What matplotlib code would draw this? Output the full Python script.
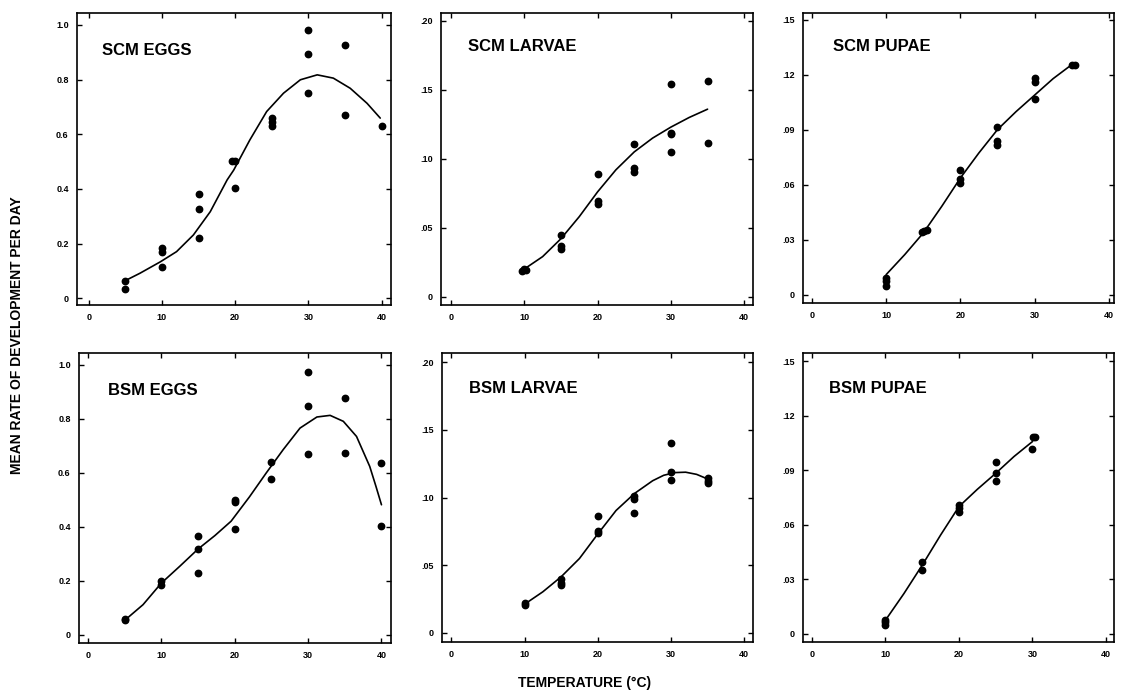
import matplotlib
matplotlib.use("Agg")
import matplotlib.pyplot as plt

# ---------------- data ----------------
scm_eggs_t = [5, 5, 10, 10, 10, 15, 15, 15, 19.6, 20, 20, 25, 25, 25, 30, 30, 30, 35, 35, 40]
scm_eggs_r = [0.063, 0.035, 0.183, 0.171, 0.116, 0.38, 0.328, 0.221, 0.504, 0.502, 0.405,
              0.659, 0.643, 0.63, 0.982, 0.894, 0.75, 0.926, 0.672, 0.63]
scm_eggs_fit_t = [5, 7, 9.8, 12, 14.3, 16.6, 18.9, 19.8, 22, 24.3, 26.6, 28.9, 31.2,
                  33.4, 35.7, 38, 39.8]
scm_eggs_fit_r = [0.065, 0.092, 0.134, 0.171, 0.232, 0.317, 0.433, 0.469, 0.579, 0.683,
                  0.75, 0.799, 0.817, 0.805, 0.768, 0.713, 0.659]

scm_larvae_t = [9.7, 10, 10.2, 15, 15, 15, 20, 20, 20, 25, 25, 25, 30, 30, 30, 30, 35, 35]
scm_larvae_r = [0.0185, 0.020, 0.0195, 0.0444, 0.0364, 0.0347, 0.0888, 0.0694, 0.067,
                0.1107, 0.093, 0.0905, 0.154, 0.119, 0.118, 0.105, 0.1566, 0.1117]
scm_larvae_fit_t = [10, 12.5, 15, 17.5, 20, 22.5, 25, 27.5, 30, 32.5, 35]
scm_larvae_fit_r = [0.020, 0.029, 0.042, 0.058, 0.076, 0.092, 0.105, 0.115, 0.123, 0.130, 0.136]

scm_pupae_t = [10, 10, 10, 14.8, 15.1, 15.5, 20, 20, 20, 25, 25, 25, 30, 30, 30, 35, 35.4]
scm_pupae_r = [0.0093, 0.0075, 0.0051, 0.0345, 0.035, 0.0352, 0.0684, 0.0633, 0.061,
               0.0916, 0.0838, 0.082, 0.1184, 0.116, 0.107, 0.1256, 0.1256]
scm_pupae_fit_t = [10, 12.5, 15, 17.5, 20, 22.5, 25, 27.5, 30, 32.5, 35]
scm_pupae_fit_r = [0.0111, 0.022, 0.0338, 0.0484, 0.0638, 0.0775, 0.0902, 0.100, 0.109, 0.118, 0.1256]

bsm_eggs_t = [5, 5, 10, 10, 15, 15, 15, 20, 20, 20, 25, 25, 30, 30, 30, 35, 35, 40, 40]
bsm_eggs_r = [0.053, 0.058, 0.1975, 0.185, 0.364, 0.317, 0.228, 0.50, 0.49, 0.391,
              0.64, 0.577, 0.974, 0.848, 0.669, 0.877, 0.672, 0.636, 0.401]
bsm_eggs_fit_t = [5, 7.5, 10, 12.5, 15, 17.3, 19.5, 22, 24.3, 26.6, 28.9, 31.2, 33,
                  34.8, 36.6, 38.4, 39.25, 40]
bsm_eggs_fit_r = [0.053, 0.111, 0.191, 0.253, 0.317, 0.367, 0.42, 0.51, 0.599, 0.685,
                  0.765, 0.806, 0.812, 0.79, 0.734, 0.623, 0.549, 0.481]

bsm_larvae_t = [10, 10, 15, 15, 15, 20, 20, 20, 25, 25, 25, 30, 30, 30, 35, 35, 35]
bsm_larvae_r = [0.0222, 0.0205, 0.0395, 0.037, 0.0353, 0.0864, 0.0753, 0.0736,
                0.1012, 0.099, 0.0889, 0.1407, 0.1193, 0.1131, 0.1148, 0.1126, 0.1106]
bsm_larvae_fit_t = [10, 12.5, 15, 17.5, 20, 22.5, 25, 27.5, 29, 30.5, 32, 33.5, 35]
bsm_larvae_fit_r = [0.0212, 0.0304, 0.0415, 0.055, 0.0731, 0.0905, 0.103, 0.1125, 0.1165,
                    0.1185, 0.1188, 0.1172, 0.1138]

bsm_pupae_t = [10, 10, 10, 15, 15, 20, 20, 20, 25, 25, 25, 30.1, 30.4, 30]
bsm_pupae_r = [0.0077, 0.0064, 0.0046, 0.0396, 0.0353, 0.0709, 0.069, 0.0672,
               0.0948, 0.0883, 0.0841, 0.1086, 0.1086, 0.1016]
bsm_pupae_fit_t = [10, 12.5, 15, 17.5, 20, 22.5, 25, 27.5, 30]
bsm_pupae_fit_r = [0.0074, 0.022, 0.0377, 0.0543, 0.070, 0.0795, 0.0883, 0.0976, 0.1058]

panel_titles = ["SCM EGGS", "SCM LARVAE", "SCM PUPAE", "BSM EGGS", "BSM LARVAE", "BSM PUPAE"]
x_ticks = [0, 10, 20, 30, 40]
x_tick_labels = ["0", "10", "20", "30", "40"]
eggs_ticks = [0, 0.2, 0.4, 0.6, 0.8, 1.0]
eggs_tick_labels = ["0", "0.2", "0.4", "0.6", "0.8", "1.0"]
larvae_ticks = [0, 0.05, 0.10, 0.15, 0.20]
larvae_tick_labels = ["0", ".05", ".10", ".15", ".20"]
pupae_ticks = [0, 0.03, 0.06, 0.09, 0.12, 0.15]
pupae_tick_labels = ["0", ".03", ".06", ".09", ".12", ".15"]
y_label = "MEAN RATE OF DEVELOPMENT PER DAY"
x_label = "TEMPERATURE (\u00b0C)"

# ---------------- layout ----------------
W, H = 1121, 693
fig = plt.figure(figsize=(W / 100, H / 100), dpi=100)
FONT = "Liberation Sans"

# (left, top, right, bottom) in pixels
boxes = [(77, 13, 391, 305), (441, 13, 753, 305), (803, 13, 1114, 303),
         (79, 353, 391, 643), (442, 353, 753, 642), (803, 353, 1114, 642)]
xlims = [(-1.59, 41.27), (-1.36, 41.2), (-1.21, 40.7),
         (-1.23, 41.3), (-1.27, 41.2), (-1.22, 41.1)]
ylims = [(-0.024, 1.043), (-0.0061, 0.2058), (-0.0044, 0.1538),
         (-0.031, 1.043), (-0.0067, 0.2069), (-0.0046, 0.1546)]
title_pos = [(0.079, 0.873), (0.085, 0.885), (0.095, 0.884),
             (0.094, 0.869), (0.088, 0.878), (0.085, 0.878)]

pts = [(scm_eggs_t, scm_eggs_r), (scm_larvae_t, scm_larvae_r), (scm_pupae_t, scm_pupae_r),
       (bsm_eggs_t, bsm_eggs_r), (bsm_larvae_t, bsm_larvae_r), (bsm_pupae_t, bsm_pupae_r)]
fits = [(scm_eggs_fit_t, scm_eggs_fit_r), (scm_larvae_fit_t, scm_larvae_fit_r),
        (scm_pupae_fit_t, scm_pupae_fit_r), (bsm_eggs_fit_t, bsm_eggs_fit_r),
        (bsm_larvae_fit_t, bsm_larvae_fit_r), (bsm_pupae_fit_t, bsm_pupae_fit_r)]
yticks = [(eggs_ticks, eggs_tick_labels), (larvae_ticks, larvae_tick_labels),
          (pupae_ticks, pupae_tick_labels)] * 2

for i in range(6):
    l, t, r, b = boxes[i]
    ax = fig.add_axes([l / W, 1 - b / H, (r - l) / W, (b - t) / H])
    ax.plot(fits[i][0], fits[i][1], color="black", lw=1.2, solid_capstyle="round",
            solid_joinstyle="round", zorder=2)
    ax.plot(pts[i][0], pts[i][1], "o", color="black", ms=4.6, mec="black", zorder=3)
    ax.set_xlim(*xlims[i])
    ax.set_ylim(*ylims[i])
    ax.set_xticks(x_ticks)
    ax.set_xticklabels(x_tick_labels, fontfamily=FONT, fontweight="bold", fontsize=6.5)
    ax.set_yticks(yticks[i][0])
    ax.set_yticklabels(yticks[i][1], fontfamily=FONT, fontweight="bold", fontsize=6.5)
    ax.tick_params(direction="in", top=True, right=True, length=3.5, width=1.0, pad=6,
                   colors="black")
    for sp in ax.spines.values():
        sp.set_linewidth(1.2)
        sp.set_color("black")
    ax.text(title_pos[i][0], title_pos[i][1], panel_titles[i], transform=ax.transAxes,
            fontfamily=FONT, fontweight="bold", fontsize=12, ha="left", va="center")

fig.text(17 / W, 1 - 335 / H, y_label, rotation=90, ha="center", va="center",
         fontfamily=FONT, fontweight="bold", fontsize=10)
fig.text(585 / W, 1 - 683 / H, x_label, ha="center", va="center",
         fontfamily=FONT, fontweight="bold", fontsize=10)

fig.savefig("out.png", dpi=100, facecolor="white")
